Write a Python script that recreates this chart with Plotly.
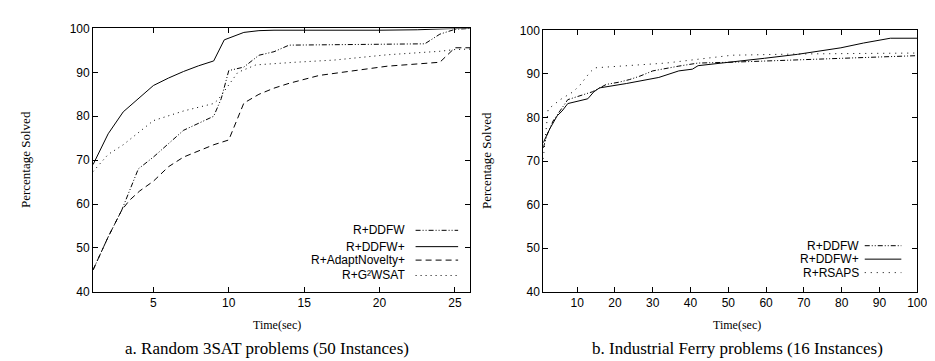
import plotly.graph_objects as go

W, H = 935, 361

# ---------- data: panel a (Random 3SAT) ----------
a_ddfw_x = [1, 2, 2.9, 4, 5, 7, 9, 9.5, 10, 11, 12, 13, 14, 18, 23, 24, 25, 26]
a_ddfw_y = [45, 52.5, 58.6, 68, 70.7, 76.8, 80, 84, 90.4, 91.2, 93.9, 94.7, 96.2, 96.3, 96.5, 98.7, 99.8, 100]

a_ddfwp_x = [1, 2, 3, 4, 5, 6, 7, 8, 9, 9.7, 11, 12, 13, 20, 22.5, 25, 26]
a_ddfwp_y = [69, 76, 81, 84, 87, 88.7, 90.2, 91.5, 92.6, 97.4, 99.1, 99.5, 99.6, 99.6, 99.7, 100, 100]

a_adapt_x = [1, 2, 2.9, 3.4, 4.1, 5, 6, 7, 9, 10, 11, 12, 13, 14, 16, 18, 20.5, 24, 25, 26]
a_adapt_y = [45, 52.5, 58.6, 60.8, 63, 65.2, 68.5, 70.7, 73.5, 74.6, 83, 85, 86.4, 87.5, 89.3, 90.3, 91.4, 92.3, 95.6, 95.6]

a_g2_x = [1, 2, 3, 5, 7, 9, 9.3, 10.6, 11.8, 13, 14.4, 17, 20.5, 24, 25, 26]
a_g2_y = [67.4, 71.3, 73.5, 79, 81.2, 82.9, 83.8, 90, 91.7, 91.9, 92.3, 92.8, 94.0, 94.8, 95.2, 95.3]

# ---------- data: panel b (Industrial Ferry) ----------
b_ddfw_x = [1, 2, 3.6, 7.5, 14, 17.7, 21, 23.8, 26.6, 30, 36.9, 42, 51, 68, 85.8, 100]
b_ddfw_y = [73, 76, 79.2, 84.1, 85.9, 87.6, 88.1, 88.7, 89.5, 90.7, 91.8, 92.5, 92.7, 93.2, 93.8, 94.2]

b_ddfwp_x = [1, 2.8, 4.7, 6, 7.5, 12.8, 14.4, 15.9, 23, 31.6, 36.9, 40.5, 42, 51, 59.6, 68.3, 79.8, 85.8, 92.9, 100]
b_ddfwp_y = [74.2, 77.5, 80.4, 81.5, 83.2, 84.3, 85.9, 86.8, 87.8, 89.2, 90.7, 91.1, 91.9, 92.7, 93.6, 94.5, 96, 97.1, 98.2, 98.2]

b_rsaps_x = [1, 2.3, 5.5, 8.9, 10.7, 13.3, 14.6, 23.8, 33.5, 51, 70, 100]
b_rsaps_y = [70.5, 81.9, 84.1, 85.9, 87.4, 90.3, 91.4, 92, 92.5, 94.3, 94.6, 94.8]

a_xticks = [5, 10, 15, 20, 25]
b_xticks = [10, 20, 30, 40, 50, 60, 70, 80, 90, 100]
yticks = [40, 50, 60, 70, 80, 90, 100]

a_names = ["R+DDFW", "R+DDFW+", "R+AdaptNovelty+", "R+G²WSAT"]
b_names = ["R+DDFW", "R+DDFW+", "R+RSAPS"]

DASH_DDFW = "5px,2px,1px,2px,1px,2px"
DASH_ADAPT = "6px,4px"
DASH_DOT = "1px,4px"
DASH_DOT2 = "1px,5px"

fig = go.Figure()

def add(x, y, dash, xa, ya, name):
    fig.add_trace(go.Scatter(x=x, y=y, mode="lines", name=name, showlegend=False,
                             line=dict(color="black", width=1, dash=dash),
                             xaxis=xa, yaxis=ya))

add(a_ddfw_x, a_ddfw_y, DASH_DDFW, "x", "y", a_names[0])
add(a_ddfwp_x, a_ddfwp_y, "solid", "x", "y", a_names[1])
add(a_adapt_x, a_adapt_y, DASH_ADAPT, "x", "y", a_names[2])
add(a_g2_x, a_g2_y, DASH_DOT, "x", "y", a_names[3])
add(b_ddfw_x, b_ddfw_y, DASH_DDFW, "x2", "y2", b_names[0])
add(b_ddfwp_x, b_ddfwp_y, "solid", "x2", "y2", b_names[1])
add(b_rsaps_x, b_rsaps_y, DASH_DOT2, "x2", "y2", b_names[2])

tickfont = dict(family="Liberation Sans, Arial", size=12, color="black")
axcommon = dict(showline=True, linecolor="black", linewidth=1, mirror="allticks",
                ticks="inside", ticklen=5, tickcolor="black", tickwidth=1,
                showgrid=False, zeroline=False, tickfont=tickfont)

fig.update_layout(
    width=W, height=H, margin=dict(l=0, r=0, t=0, b=0),
    paper_bgcolor="white", plot_bgcolor="white",
    xaxis=dict(domain=[86 / W, 467 / W], range=[1, 26], tickvals=a_xticks,
               anchor="y", **axcommon),
    yaxis=dict(domain=[1 - 288 / H, 1 - 14 / H], range=[40, 100], tickvals=yticks,
               anchor="x", **axcommon),
    xaxis2=dict(domain=[541 / W, 919 / W], range=[1, 100], tickvals=b_xticks,
                anchor="y2", **axcommon),
    yaxis2=dict(domain=[1 - 288 / H, 1 - 16 / H], range=[40, 100], tickvals=yticks,
                anchor="x2", **axcommon),
)

serif = "Liberation Serif, Times New Roman"
anns = []
def txt(px, py, s, size, family, xanchor="center", angle=0):
    anns.append(dict(x=px / W, y=1 - py / H, xref="paper", yref="paper", text=s,
                     showarrow=False, xanchor=xanchor, yanchor="middle", textangle=angle,
                     font=dict(family=family, size=size, color="black")))

# axis titles and captions
txt(272, 322, "Time(sec)", 12, serif)
txt(737, 322, "Time(sec)", 12, serif)
txt(17, 150, "Percentage Solved", 13, serif, angle=-90)
txt(483, 151, "Percentage Solved", 13, serif, angle=-90)
txt(262, 347, "a. Random 3SAT problems (50 Instances)", 17, serif)
txt(737, 347, "b. Industrial Ferry problems (16 Instances)", 17, serif)

# legends (gnuplot style: text right-aligned, sample on the right)
shapes = []
sans = "Liberation Sans, Arial"
a_rows = [224, 241, 255, 271]
a_dashes = [DASH_DDFW, "solid", DASH_ADAPT, DASH_DOT]
for name, py, d in zip(a_names, a_rows, a_dashes):
    txt(403, py, name, 12, sans, xanchor="right")
    shapes.append(dict(type="line", xref="paper", yref="paper",
                       x0=412 / W, x1=455 / W, y0=1 - py / H, y1=1 - py / H,
                       line=dict(color="black", width=1, dash=d)))
b_rows = [240, 254, 268]
b_dashes = [DASH_DDFW, "solid", DASH_DOT2]
for name, py, d in zip(b_names, b_rows, b_dashes):
    txt(862, py, name, 12, sans, xanchor="right")
    shapes.append(dict(type="line", xref="paper", yref="paper",
                       x0=866 / W, x1=903 / W, y0=1 - py / H, y1=1 - py / H,
                       line=dict(color="black", width=1, dash=d)))

fig.update_layout(annotations=anns, shapes=shapes)
fig.write_html("out.html")
